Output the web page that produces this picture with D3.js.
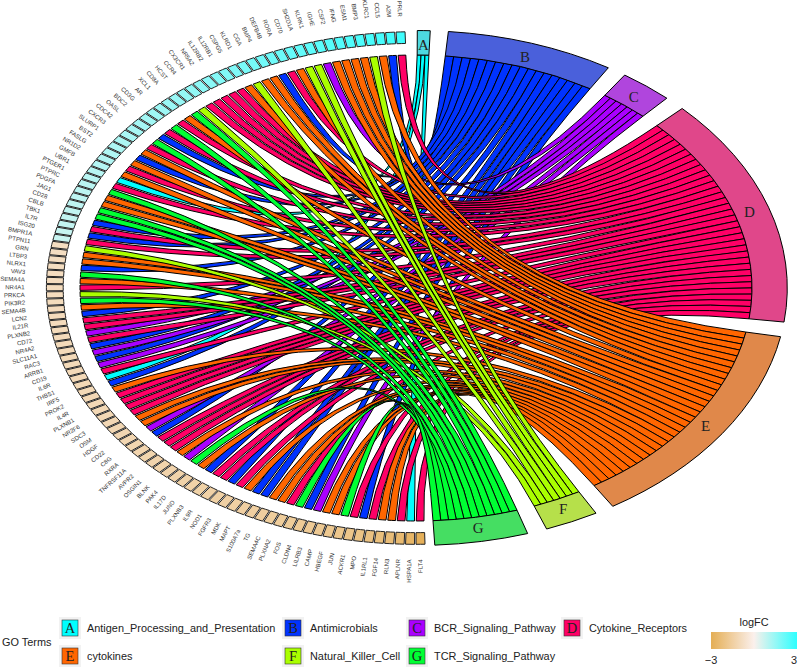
<!DOCTYPE html>
<html><head><meta charset="utf-8">
<script src="https://d3js.org/d3.v7.min.js"></script>
<style>html,body{margin:0;padding:0;background:#fff}svg{display:block}</style>
</head><body><svg id="c" width="800" height="667"></svg>
<script>
const genes = ["PRLR","A2M","CCL5","KLRC1","BMP3","ESM1","IFNG","CSF2","IGHE","KLRK1","SH2D1A","CD70","RORA","DEFB4B","BMP4","CGA","KLRD1","CSPG5","IL12RB1","IL12RB2","NR5A2","CX3CR1","CCR4","HCST","CD8A","XCL1","AR","CD3G","BDC2","OASL","CDC42","CXCR3","SLURP1","BST2","FASLG","NR1D2","GMFB","UBR1","PTGER1","PTPRC","PDGFA","JAG1","CD28","CBLB","TBK1","IL7R","ISG20","BMPR1A","PTPN11","GRN","LTBP3","NLRX1","VAV3","SEMA4A","NR4A1","PRKCA","PIK3R2","SEMA4B","LCN2","IL21R","PLXNB2","CD72","NR4A2","SLC11A1","RAC3","ARRB1","CD19","IL6R","THBS1","IRF5","PROK2","IL4R","PLXNB1","NR2F6","SDC3","OSM","HDGF","CD22","C8G","RXRA","TNFRSF11A","AVPR2","OSGIN1","BLNK","PAK4","IL17D","JUND","PLXNB3","IL9R","NOD1","FGFR3","MDK","MAPT","S100A7a","TG","SEMA4C","PLXNA2","FOS","CLDN4","LILRB3","CAMP","HBEGF","JUN","ACKR1","MPO","IL1RL1","FGF14","RLN3","APLNR","HSPA1A","FLT4"];
const geneTerm = "D B E F E E E E C F F E D B E E F E D D D D D F G E D G D B G D E B E D E A D G E E G G B D B D F E E B G E D F G E B D D C D B C B C D A B E D D D D E E C B D D D E C G E B D D B D E B B E E D G B C E E G D B D E E D A D".split(" ");
const logFC = [2.75,2.7,2.62,2.6,2.55,2.5,2.46,2.4,2.35,2.3,2.22,2.18,2.1,2.05,2.0,1.95,1.9,1.82,1.78,1.72,1.66,1.6,1.55,1.5,1.45,1.42,1.38,1.34,1.3,1.26,1.22,1.2,1.16,1.12,1.1,1.06,1.04,1.0,0.98,0.95,0.92,0.9,0.88,0.85,0.83,0.8,0.78,0.75,-0.85,-0.86,-0.87,-0.88,-0.89,-0.9,-0.91,-0.92,-0.93,-0.94,-0.95,-0.96,-0.97,-0.98,-0.99,-1.0,-1.01,-1.02,-1.03,-1.04,-1.05,-1.06,-1.07,-1.08,-1.09,-1.1,-1.12,-1.14,-1.16,-1.18,-1.2,-1.22,-1.24,-1.26,-1.28,-1.3,-1.32,-1.34,-1.36,-1.38,-1.4,-1.42,-1.44,-1.46,-1.48,-1.5,-1.53,-1.56,-1.6,-1.64,-1.68,-1.72,-1.77,-1.82,-1.88,-1.95,-2.02,-2.1,-2.2,-2.3,-2.45,-2.65,-2.9];
const termKeys = ["A","B","C","D","E","F","G"];
const termNames = ["Antigen_Processing_and_Presentation","Antimicrobials","BCR_Signaling_Pathway","Cytokine_Receptors","cytokines","Natural_Killer_Cell","TCR_Signaling_Pathway"];
const chordColors = ["#00FFFF","#0033FF","#AA00FF","#FF0066","#FF6600","#AAFF00","#00FF33"];
const blockColors = ["#4DD9E0","#4A60DB","#B045DD","#E0478A","#E0884A","#B6E04A","#45DE62"];
const termSpans = [[0.2,2.2],[5,31.2],[34.2,42.5],[45.8,97.6],[100.9,148],[151,159.4],[162.5,177.1]];
const fcTicks = [-3,3];

const svg = d3.select("#c");
const rad = d3.scaleLinear().domain([0,360]).range([0,2*Math.PI]);
const cx=416, cy=288, RY=233, RX=336;
const chart = svg.append("g").attr("transform",`translate(${cx},${cy}) scale(${RX/RY},1)`);
const geneAngle = d3.scaleLinear().domain([0,genes.length-1]).range([357.6,179.3]);
const fcColor = d3.scaleLinear().domain([-3,0,3]).range(["#E4AE55","#FBF0EC","#2EFFFF"]);
const cellHalf=0.70, ribbonHalf=0.66;
const stroke = s => s.attr("vector-effect","non-scaling-stroke");

const ribbon = d3.ribbon().radius(RY);
const links=[];
termKeys.forEach((t,ti)=>{
  const idx = d3.range(genes.length).filter(i=>geneTerm[i]===t);
  const w = d3.scaleLinear().domain([0,idx.length]).range(termSpans[ti]);
  idx.forEach((g,k)=>links.push({g,ti,c:w(k),d:w(k+1)}));
});
chart.append("g").selectAll("path").data(links).join("path")
  .attr("d",l=>ribbon({source:{startAngle:rad(geneAngle(l.g)-ribbonHalf),endAngle:rad(geneAngle(l.g)+ribbonHalf)},
                       target:{startAngle:rad(l.c),endAngle:rad(l.d)}}))
  .attr("fill",l=>chordColors[l.ti]).attr("stroke","#000").attr("stroke-width",1).call(stroke);

const blockArc = d3.arc().innerRadius(RY).outerRadius(RY*1.105);
chart.append("g").selectAll("path").data(termSpans).join("path")
  .attr("d",s=>blockArc({startAngle:rad(s[0]),endAngle:rad(s[1])}))
  .attr("fill",(s,i)=>blockColors[i]).attr("stroke","#000").attr("stroke-width",1).call(stroke);

const cellArc = d3.arc().innerRadius(RY*1.05).outerRadius(RY*1.10);
chart.append("g").selectAll("path").data(genes).join("path")
  .attr("d",(g,i)=>cellArc({startAngle:rad(geneAngle(i)-cellHalf),endAngle:rad(geneAngle(i)+cellHalf)}))
  .attr("fill",(g,i)=>fcColor(logFC[i])).attr("stroke","#222").attr("stroke-width",1).call(stroke);

const pos=(deg,r)=>[cx+RX*r*Math.sin(rad(deg)),cy-RY*r*Math.cos(rad(deg))];
svg.append("g").selectAll("text").data(genes).join("text")
  .attr("transform",(g,i)=>{const a=geneAngle(i),p=pos(a,1.165);return `translate(${p[0]},${p[1]}) rotate(${a-270})`;})
  .attr("text-anchor","end").attr("dominant-baseline","middle")
  .attr("font-family","Liberation Sans").attr("font-size",6).attr("fill","#333").text(g=>g);

svg.append("g").selectAll("text").data(termKeys).join("text")
  .attr("x",(t,i)=>pos((termSpans[i][0]+termSpans[i][1])/2,1.045)[0])
  .attr("y",(t,i)=>pos((termSpans[i][0]+termSpans[i][1])/2,1.045)[1])
  .attr("text-anchor","middle").attr("dominant-baseline","central")
  .attr("font-family","Liberation Serif").attr("font-size",15).attr("fill","#222").text(t=>t);

// legend
svg.append("text").attr("x",2).attr("y",646).attr("font-family","Liberation Sans").attr("font-size",10.9).attr("fill","#222").text("GO Terms");
const colX=[70,293,417,572], rowY=[628,656];
const legendCell = [[0,0],[1,0],[2,0],[3,0],[0,1],[1,1],[2,1]];
const lg = svg.append("g").selectAll("g").data(termKeys).join("g")
  .attr("transform",(t,i)=>`translate(${colX[legendCell[i][0]]},${rowY[legendCell[i][1]]})`);
lg.append("rect").attr("x",-11).attr("y",-11).attr("width",22).attr("height",22).attr("fill","#F2F2F2");
lg.append("rect").attr("x",-8).attr("y",-8).attr("width",16).attr("height",16).attr("fill",(t,i)=>chordColors[i]).attr("stroke","#333").attr("stroke-width",0.6);
lg.append("text").attr("text-anchor","middle").attr("dominant-baseline","central").attr("font-family","Liberation Serif").attr("font-size",14.5).attr("fill","#222").text(t=>t);
lg.append("text").attr("x",17).attr("dominant-baseline","central").attr("font-family","Liberation Sans").attr("font-size",10.9).attr("fill","#222").text((t,i)=>termNames[i]);

// colour bar
const barX = d3.scaleLinear().domain(fcTicks).range([711,797]);
const grad = svg.append("defs").append("linearGradient").attr("id","fc");
d3.range(-3,3.01,0.5).forEach(v=>grad.append("stop").attr("offset",(v+3)/6).attr("stop-color",fcColor(v)));
svg.append("rect").attr("x",barX(-3)).attr("y",632).attr("width",barX(3)-barX(-3)).attr("height",17).attr("fill","url(#fc)");
svg.append("text").attr("x",754).attr("y",626).attr("text-anchor","middle").attr("font-family","Liberation Sans").attr("font-size",10.9).attr("fill","#222").text("logFC");
svg.append("g").selectAll("text").data(fcTicks).join("text")
  .attr("x",v=>barX(v)).attr("y",664).attr("text-anchor",v=>v<0?"middle":"end").attr("font-family","Liberation Sans").attr("font-size",10.9).attr("fill","#222")
  .text(v=>v<0?"\u2212"+Math.abs(v):v);
</script></body></html>
